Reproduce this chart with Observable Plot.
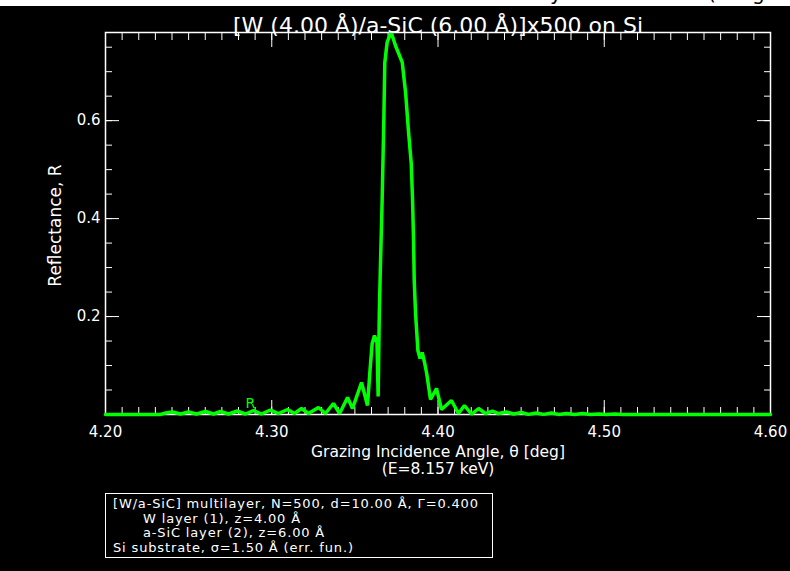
<!DOCTYPE html>
<html>
<head>
<meta charset="utf-8">
<script src="https://cdn.jsdelivr.net/npm/d3@7"></script>
<script src="https://cdn.jsdelivr.net/npm/@observablehq/plot@0.6"></script>
<style>
html, body { margin: 0; padding: 0; background: #000; width: 790px; height: 571px; overflow: hidden; }
#wrap { position: relative; width: 790px; height: 571px; }
#band { position: absolute; left: 0; top: 0; width: 790px; height: 6px; background: #fff; overflow: hidden; z-index: 2; }
#band span { position: absolute; top: -19px; font: 20px "DejaVu Sans"; color: #000; }
#legend { position: absolute; left: 105px; top: 493px; width: 388px; height: 65px; box-sizing: border-box;
  border: 1.5px solid #fff; color: #fff; font: 13px "DejaVu Sans"; letter-spacing: 0.85px; line-height: 14.5px; padding: 3px 0 0 7px; white-space: pre; }
#legend .ind { padding-left: 30px; }
</style>
</head>
<body>
<div id="wrap">
  <div id="band"><span style="left:550px">y</span><span style="left:708px">(</span><span style="left:752px">g</span></div>
  <div id="chart"></div>
  <div id="legend"></div>
</div>
<script>
// ---- data ----
const theta = [4.2000, 4.2331, 4.2361, 4.2403, 4.2451, 4.2499, 4.2547, 4.2602, 4.2650, 4.2692,
  4.2740, 4.2794, 4.2842, 4.2890, 4.2938, 4.2992, 4.3041, 4.3095, 4.3137, 4.3179,
  4.3221, 4.3281, 4.3323, 4.3371, 4.3408, 4.3456, 4.3486, 4.3540, 4.3576, 4.3591,
  4.3604, 4.3618, 4.3633, 4.3640, 4.3647, 4.3653, 4.3664, 4.3674, 4.3680, 4.3694,
  4.3718, 4.3744, 4.3785, 4.3805, 4.3823, 4.3839, 4.3847, 4.3853, 4.3857, 4.3865,
  4.3879, 4.3892, 4.3905, 4.3919, 4.3931, 4.3955, 4.3991, 4.4021, 4.4081, 4.4123,
  4.4159, 4.4202, 4.4244, 4.4286, 4.4328, 4.4364, 4.4412, 4.4454, 4.4502, 4.4544,
  4.4592, 4.4635, 4.4683, 4.4725, 4.4773, 4.4821, 4.4869, 4.4917, 4.4965, 4.5014,
  4.5062, 4.5110, 4.5278, 4.5579, 4.6000];
const reflectance = [0.0002, 0.0002, 0.0031, 0.0051, 0.0010, 0.0051, 0.0010, 0.0061, 0.0010, 0.0061,
  0.0010, 0.0071, 0.0010, 0.0082, 0.0010, 0.0092, 0.0020, 0.0102, 0.0020, 0.0123,
  0.0020, 0.0143, 0.0020, 0.0225, 0.0020, 0.0347, 0.0123, 0.0654, 0.0184, 0.0899,
  0.1450, 0.1613, 0.1470, 0.0368, 0.2083, 0.2941, 0.4370, 0.6004, 0.7188, 0.7597,
  0.7810, 0.7535, 0.7188, 0.6575, 0.5759, 0.5126, 0.4370, 0.3553, 0.2736, 0.2063,
  0.1307, 0.1144, 0.1266, 0.1062, 0.0858, 0.0306, 0.0531, 0.0102, 0.0286, 0.0020,
  0.0184, 0.0005, 0.0123, 0.0020, 0.0071, 0.0020, 0.0051, 0.0010, 0.0041, 0.0002,
  0.0031, 0.0002, 0.0031, 0.0002, 0.0020, 0.0002, 0.0020, 0.0002, 0.0010, 0.0002,
  0.0010, 0.0002, 0.0002, 0.0002, 0.0002];

const xMajorTicks = [4.20, 4.30, 4.40, 4.50, 4.60];
const yMajorTicks = [0.2, 0.4, 0.6];
const xMinorStep = 0.01;
const yMinorStep = 0.05;
const xDomain = [4.20, 4.60];
const yDomain = [0, 0.78];

const titleText = "[W (4.00 Å)/a-SiC (6.00 Å)]x500 on Si";
const xLabel = "Grazing Incidence Angle, θ [deg]\n(E=8.157 keV)";
const yLabel = "Reflectance, R";
const seriesLabel = "R";
const seriesLabelPos = [{theta: 4.2872, R: 0.0225}];
const legendLines = [
  "[W/a-SiC] multilayer, N=500, d=10.00 Å, Γ=0.400",
  "W layer (1), z=4.00 Å",
  "a-SiC layer (2), z=6.00 Å",
  "Si substrate, σ=1.50 Å (err. fun.)"
];
const legendIndent = [false, true, true, false];

// ---- build ----
const data = theta.map((t, i) => ({theta: t, R: reflectance[i]}));
const xMinor = d3.range(Math.round((xDomain[1] - xDomain[0]) / xMinorStep) + 1).map(i => +(xDomain[0] + i * xMinorStep).toFixed(3));
const yMinor = d3.range(1, Math.floor(yDomain[1] / yMinorStep) + 1).map(i => +(i * yMinorStep).toFixed(3));
const fmt2 = d3.format(".2f");
const fmt1 = d3.format(".1f");

const tickMarks = [];
for (const a of ["bottom", "top"]) {
  tickMarks.push(Plot.axisX({anchor: a, ticks: xMinor, tickSize: -7, text: null, label: null, stroke: "white"}));
  tickMarks.push(Plot.axisX({anchor: a, ticks: xMajorTicks, tickSize: -14, text: null, label: null, stroke: "white"}));
}
for (const a of ["left", "right"]) {
  tickMarks.push(Plot.axisY({anchor: a, ticks: yMinor, tickSize: -7, text: null, label: null, stroke: "white"}));
  tickMarks.push(Plot.axisY({anchor: a, ticks: yMajorTicks, tickSize: -14, text: null, label: null, stroke: "white"}));
}

const chart = Plot.plot({
  width: 790, height: 485,
  marginTop: 32, marginBottom: 71, marginLeft: 105, marginRight: 20,
  style: {background: "black", color: "white", fontFamily: "DejaVu Sans", fontSize: "15px", overflow: "visible"},
  x: {domain: xDomain},
  y: {domain: yDomain},
  marks: [
    ...tickMarks,
    Plot.axisX({anchor: "bottom", ticks: xMajorTicks, tickSize: 0, tickPadding: 12, tickFormat: fmt2, label: null, fill: "white", fontSize: 15}),
    Plot.axisY({anchor: "left", ticks: yMajorTicks, tickSize: 0, tickPadding: 5, tickFormat: fmt1, label: null, fill: "white", fontSize: 15}),
    Plot.frame({stroke: "white", strokeWidth: 1.5}),
    Plot.line(data, {x: "theta", y: "R", stroke: "#00ff00", strokeWidth: 3.5, strokeLinejoin: "miter"}),
    Plot.text(seriesLabelPos, {x: "theta", y: "R", text: () => seriesLabel, fill: "#00ff00", fontSize: 14}),
    Plot.text([titleText], {frameAnchor: "top", textAnchor: "middle", dy: -15, fill: "white", fontSize: 22}),
    Plot.text([xLabel], {frameAnchor: "bottom", textAnchor: "middle", lineAnchor: "top", dy: 30, fill: "white", fontSize: 15.5, lineHeight: 1.1}),
    Plot.text([yLabel], {frameAnchor: "left", textAnchor: "middle", rotate: -90, dx: -50, dy: 2, fill: "white", fontSize: 17})
  ]
});
document.getElementById("chart").appendChild(chart);

const legend = document.getElementById("legend");
legendLines.forEach((t, i) => {
  const d = document.createElement("div");
  d.textContent = t;
  if (legendIndent[i]) d.className = "ind";
  legend.appendChild(d);
});
</script>
</body>
</html>
